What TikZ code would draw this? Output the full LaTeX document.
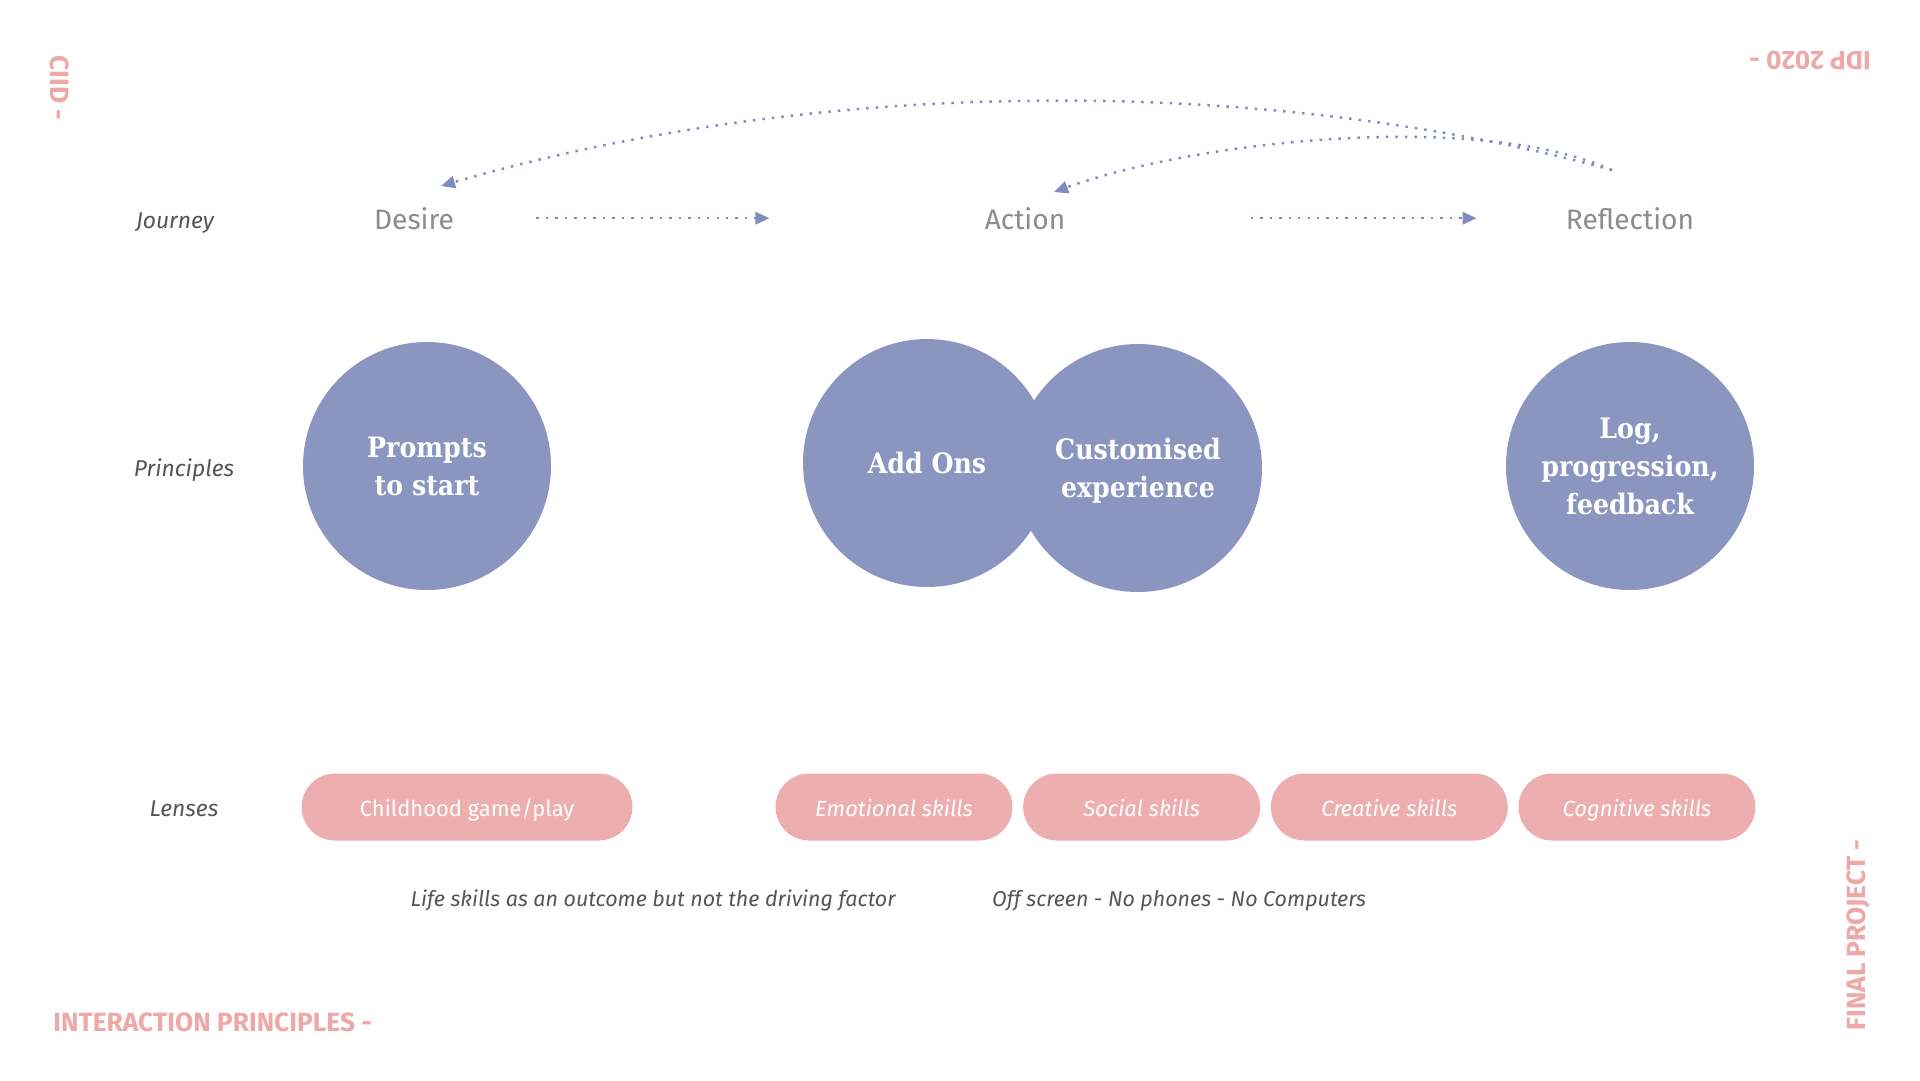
\documentclass[tikz,border=0pt]{standalone}
\usepackage{fontspec}
\setmainfont{Fira Sans}
\newfontfamily\slabfont[FakeStretch=0.9]{DejaVu Serif}
\usetikzlibrary{positioning,arrows.meta,shapes.misc}

\definecolor{lavender}{RGB}{138,150,191}
\definecolor{arrowblue}{RGB}{128,140,190}
\definecolor{blush}{RGB}{236,174,174}
\definecolor{rosetext}{RGB}{238,168,168}
\definecolor{darkgrey}{RGB}{85,85,85}
\definecolor{midgrey}{RGB}{140,140,140}

\tikzset{
  rowlabel/.style={font=\itshape\fontsize{13}{15}\selectfont, text=darkgrey, anchor=base, inner sep=0pt},
  note/.style={rowlabel, font=\itshape\fontsize{12.2}{15}\selectfont},
  stage/.style={font=\fontsize{16}{19}\selectfont, text=midgrey, anchor=base, inner sep=0pt},
  principle/.style={circle, fill=lavender, minimum size=4.96cm, inner sep=0pt, text=white, align=center,
    text depth=0pt, font=\slabfont\bfseries\fontsize{16}{21.6}\selectfont},
  lens/.style={rounded rectangle, fill=blush, minimum height=1.34cm, minimum width=4.74cm, inner sep=0pt,
    text=white, text height=11pt, text depth=0pt, font=\itshape\fontsize{12.5}{15}\selectfont},
  flow/.style={arrowblue, line width=1.4pt, dash pattern=on 1.4pt off 4pt, -{Triangle[length=8pt,width=7pt]}},
  tag/.style={text=rosetext, font=\bfseries\fontsize{15}{18}\selectfont, inner sep=0pt}
}

\begin{document}
\begin{tikzpicture}[x=0.02cm, y=-0.02cm]
    % Page
    \fill[white] (0,0) rectangle (1920,1080);
    \useasboundingbox (0,0) rectangle (1920,1080);

    % Corner tags
    \node[tag, rotate=-90] (ciid) at (60,88) {CIID -};
    \node[tag, rotate=180] (idp) at (1810,60) {IDP 2020 -};
    \node[tag, rotate=90] (final) at (1858,935) {FINAL PROJECT -};
    \node[tag, anchor=west] (interaction) at (53,1022) {INTERACTION PRINCIPLES -};

    % Journey
    \node[rowlabel] (journey) at (175,228) {Journey};
    \node[stage] (desire) at (414,229) {Desire};
    \node[stage] (action) at (1025,229) {Action};
    \node[stage] (reflection) at (1630,229) {Reflection};

    \draw[flow, shorten <=1.64cm, shorten >=4.3cm] (desire) -- (action);
    \draw[flow, shorten <=3.7cm, shorten >=1.78cm] (action) -- (reflection);

    % Loops back from Reflection
    \coordinate (loopstart) at ([shift={(-18,-59)}]reflection.base);
    \coordinate (backdesire) at ([shift={(27,-43)}]desire.base);
    \coordinate (backaction) at ([shift={(29,-37)}]action.base);
    \draw[flow] (loopstart) .. controls (1260,74) and (815,77) .. (backdesire);
    \draw[flow] (loopstart) .. controls (1476,110) and (1195,141) .. (backaction);

    % Principles
    \node[rowlabel] (principles) at (184,476) {Principles};
    \node[principle] (prompts) at (427,466) {Prompts\\to start};
    \node[principle] (addons) at (927,463) {Add Ons};
    \node[principle] (custom) at (1138,468) {Customised\\experience};
    \node[principle] (logfb) at (1630,466) {Log,\\progression,\\feedback};

    % Lenses
    \node[rowlabel] (lenses) at (184,816) {Lenses};
    \node[lens, minimum width=6.62cm, font=\fontsize{12.5}{15}\selectfont] (childhood) at (467,807) {Childhood game/play};
    \node[lens] (emotional) at (894,807) {Emotional skills};
    \node[lens, right=0.2cm of emotional] (social) {Social skills};
    \node[lens, right=0.2cm of social] (creative) {Creative skills};
    \node[lens, right=0.2cm of creative] (cognitive) {Cognitive skills};

    % Notes
    \node[note] (lifeskills) at (653,906) {Life skills as an outcome but not the driving factor};
    \node[note] (offscreen) at (1179,906) {Off screen - No phones - No Computers};
\end{tikzpicture}
\end{document}
